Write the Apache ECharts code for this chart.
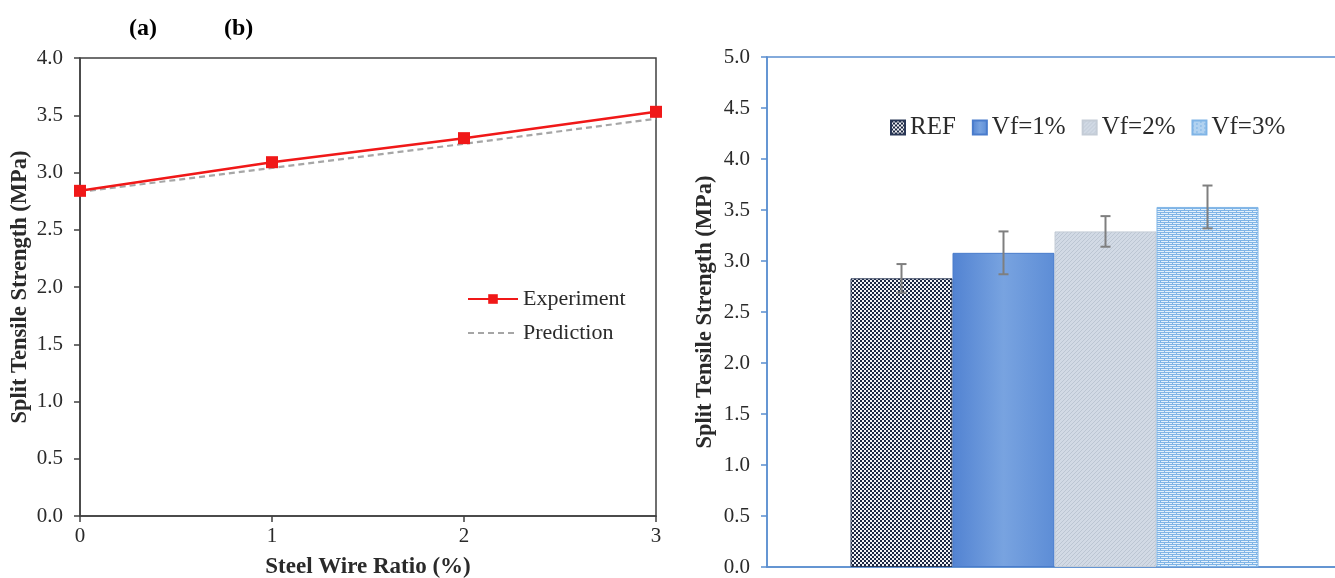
<!DOCTYPE html>
<html>
<head>
<meta charset="utf-8">
<script src="https://cdn.jsdelivr.net/npm/echarts@6/dist/echarts.min.js"></script>
<style>
html,body{margin:0;padding:0;background:#fff;}
#chart{width:1335px;height:578px;}
</style>
</head>
<body>
<div id="chart"></div>
<script>
// ---- data ----
const wireRatio = [0, 1, 2, 3];
const experiment = [2.84, 3.09, 3.30, 3.53];
const prediction = [2.83, 3.04, 3.25, 3.47];

const barNames = ['REF', 'Vf=1%', 'Vf=2%', 'Vf=3%'];
const barValues = [2.83, 3.08, 3.29, 3.53];
const barErrors = [0.14, 0.21, 0.15, 0.21];

const panelLabels = ['(a)', '(b)'];
const leftTitleY = 'Split Tensile Strength (MPa)';
const leftTitleX = 'Steel Wire Ratio (%)';
const rightTitleY = 'Split Tensile Strength (MPa)';

// ---- styles ----
const FONT = "'Liberation Serif', 'Times New Roman', serif";
const BAR_W = 102;
const BLUE_AXIS = '#5b8fd0';
const TXT = '#2a2a2a';

function makePattern(w, h, draw) {
  const c = document.createElement('canvas');
  c.width = w; c.height = h;
  draw(c.getContext('2d'));
  return { image: c, repeat: 'repeat' };
}
const patREF = makePattern(4, 4, ctx => {
  ctx.fillStyle = '#f4f4f6'; ctx.fillRect(0, 0, 4, 4);
  ctx.fillStyle = '#1b2742';
  ctx.fillRect(0, 0, 2, 2); ctx.fillRect(2, 2, 2, 2);
});
const patVf2 = makePattern(4, 4, ctx => {
  ctx.fillStyle = '#d2dae5'; ctx.fillRect(0, 0, 4, 4);
  ctx.fillStyle = '#bcc6d3';
  for (let i = 0; i < 4; i++) ctx.fillRect((3 - i + 4) % 4, i, 1, 1);
});
const patVf3 = makePattern(8, 4, ctx => {
  ctx.fillStyle = '#e3f0fb'; ctx.fillRect(0, 0, 8, 4);
  ctx.fillStyle = '#7fb4e6';
  ctx.fillRect(0, 0, 8, 1);
  ctx.fillRect(0, 2, 8, 1);
  ctx.fillRect(0, 1, 1, 1);
  ctx.fillRect(4, 3, 1, 1);
});
const gradVf1 = {
  type: 'linear', x: 0, y: 0, x2: 1, y2: 0,
  colorStops: [
    { offset: 0, color: '#5283d2' },
    { offset: 0.5, color: '#78a3e0' },
    { offset: 1, color: '#5d8dd6' }
  ]
};
const barFills = [patREF, gradVf1, patVf2, patVf3];
const barBorders = ['#2a3856', '#4a7ccc', '#c4ccd6', '#7fb4e6'];

const chart = echarts.init(document.getElementById('chart'), null, { renderer: 'canvas' });

const barSeries = barNames.map((name, i) => ({
  name: name,
  type: 'bar',
  xAxisIndex: 1, yAxisIndex: 1,
  data: [barValues[i]],
  barWidth: BAR_W,
  barGap: '0%',
  itemStyle: { color: barFills[i], borderColor: barBorders[i], borderWidth: 1 },
  emphasis: { disabled: true },
  silent: true
}));

const errData = barValues.map((v, i) => [0, v - barErrors[i], v + barErrors[i], i]);

const option = {
  animation: false,
  backgroundColor: '#ffffff',
  title: [
    { text: panelLabels[0], left: 124, top: 12, textStyle: { fontFamily: FONT, fontSize: 24, fontWeight: 'bold', color: '#000' } },
    { text: panelLabels[1], left: 219, top: 12, textStyle: { fontFamily: FONT, fontSize: 24, fontWeight: 'bold', color: '#000' } }
  ],
  legend: [
    {
      data: ['Experiment', { name: 'Prediction', itemStyle: { opacity: 0 } }],
      orient: 'vertical',
      left: 462, top: 283,
      itemWidth: 50, itemHeight: 12,
      itemGap: 12,
      textStyle: { fontFamily: FONT, fontSize: 22, color: TXT },
      selectedMode: false
    },
    {
      data: barNames.map(n => ({ name: n, icon: 'rect' })),
      orient: 'horizontal',
      left: 885, top: 110,
      itemWidth: 14, itemHeight: 14,
      itemGap: 16,
      textStyle: { fontFamily: FONT, fontSize: 25, color: TXT },
      selectedMode: false
    }
  ],
  grid: [
    { left: 80, right: 679, top: 58, bottom: 62, outerBoundsMode: 'none', containLabel: false, show: true, borderColor: '#404040', borderWidth: 1.5, backgroundColor: 'transparent' },
    { left: 767, right: -7, top: 57, bottom: 11, outerBoundsMode: 'none', containLabel: false, show: true, borderColor: BLUE_AXIS, borderWidth: 1.5, backgroundColor: 'transparent' }
  ],
  xAxis: [
    {
      gridIndex: 0, type: 'value', min: 0, max: 3, interval: 1,
      name: leftTitleX, nameLocation: 'middle', nameGap: 40,
      nameTextStyle: { fontFamily: FONT, fontSize: 23, fontWeight: 'bold', color: TXT },
      axisLine: { lineStyle: { color: '#404040', width: 1.5 } },
      axisTick: { show: true, length: 6, lineStyle: { color: '#404040', width: 1.5 } },
      axisLabel: { fontFamily: FONT, fontSize: 21, color: TXT, margin: 10 },
      splitLine: { show: false }
    },
    {
      gridIndex: 1, type: 'category', data: [''],
      axisLine: { lineStyle: { color: BLUE_AXIS, width: 1.5 } },
      axisTick: { show: false },
      axisLabel: { show: false },
      splitLine: { show: false }
    }
  ],
  yAxis: [
    {
      gridIndex: 0, type: 'value', min: 0, max: 4, interval: 0.5,
      name: leftTitleY, nameLocation: 'middle', nameGap: 48, nameRotate: 90,
      nameTextStyle: { fontFamily: FONT, fontSize: 22.5, fontWeight: 'bold', color: TXT },
      axisLine: { show: true, lineStyle: { color: '#404040', width: 1.5 } },
      axisTick: { show: true, length: 6, lineStyle: { color: '#404040', width: 1.5 } },
      axisLabel: { fontFamily: FONT, fontSize: 21, color: TXT, margin: 17, formatter: v => v.toFixed(1) },
      splitLine: { show: false }
    },
    {
      gridIndex: 1, type: 'value', min: 0, max: 5, interval: 0.5,
      name: rightTitleY, nameLocation: 'middle', nameGap: 50, nameRotate: 90,
      nameTextStyle: { fontFamily: FONT, fontSize: 22.5, fontWeight: 'bold', color: TXT },
      axisLine: { show: true, lineStyle: { color: BLUE_AXIS, width: 1.5 } },
      axisTick: { show: true, length: 6, lineStyle: { color: BLUE_AXIS, width: 1.5 } },
      axisLabel: { fontFamily: FONT, fontSize: 21, color: TXT, margin: 17, formatter: v => v.toFixed(1) },
      splitLine: { show: false }
    }
  ],
  series: [
    {
      name: 'Prediction', type: 'line',
      xAxisIndex: 0, yAxisIndex: 0,
      data: wireRatio.map((x, i) => [x, prediction[i]]),
      symbol: 'none',
      lineStyle: { color: '#a6a6a6', width: 2.2, type: [6, 4] },
      itemStyle: { color: '#a6a6a6' },
      z: 2, silent: true
    },
    {
      name: 'Experiment', type: 'line',
      xAxisIndex: 0, yAxisIndex: 0,
      data: wireRatio.map((x, i) => [x, experiment[i]]),
      symbol: 'rect', symbolSize: 12,
      lineStyle: { color: '#f01818', width: 2.5 },
      itemStyle: { color: '#f01818' },
      z: 3, silent: true
    },
    ...barSeries,
    {
      name: 'err', type: 'custom',
      xAxisIndex: 1, yAxisIndex: 1,
      data: errData,
      encode: { x: 0, y: [1, 2] },
      z: 10, silent: true,
      renderItem: function (params, api) {
        const idx = api.value(3);
        const lo = api.coord([api.value(0), api.value(1)]);
        const hi = api.coord([api.value(0), api.value(2)]);
        const x = lo[0] + (idx - 1.5) * BAR_W;
        const cap = 5;
        const st = { stroke: '#7f7f7f', lineWidth: 2 };
        return {
          type: 'group',
          children: [
            { type: 'line', shape: { x1: x, y1: lo[1], x2: x, y2: hi[1] }, style: st },
            { type: 'line', shape: { x1: x - cap, y1: hi[1], x2: x + cap, y2: hi[1] }, style: st },
            { type: 'line', shape: { x1: x - cap, y1: lo[1], x2: x + cap, y2: lo[1] }, style: st }
          ]
        };
      }
    }
  ]
};
chart.setOption(option);
</script>
</body>
</html>
